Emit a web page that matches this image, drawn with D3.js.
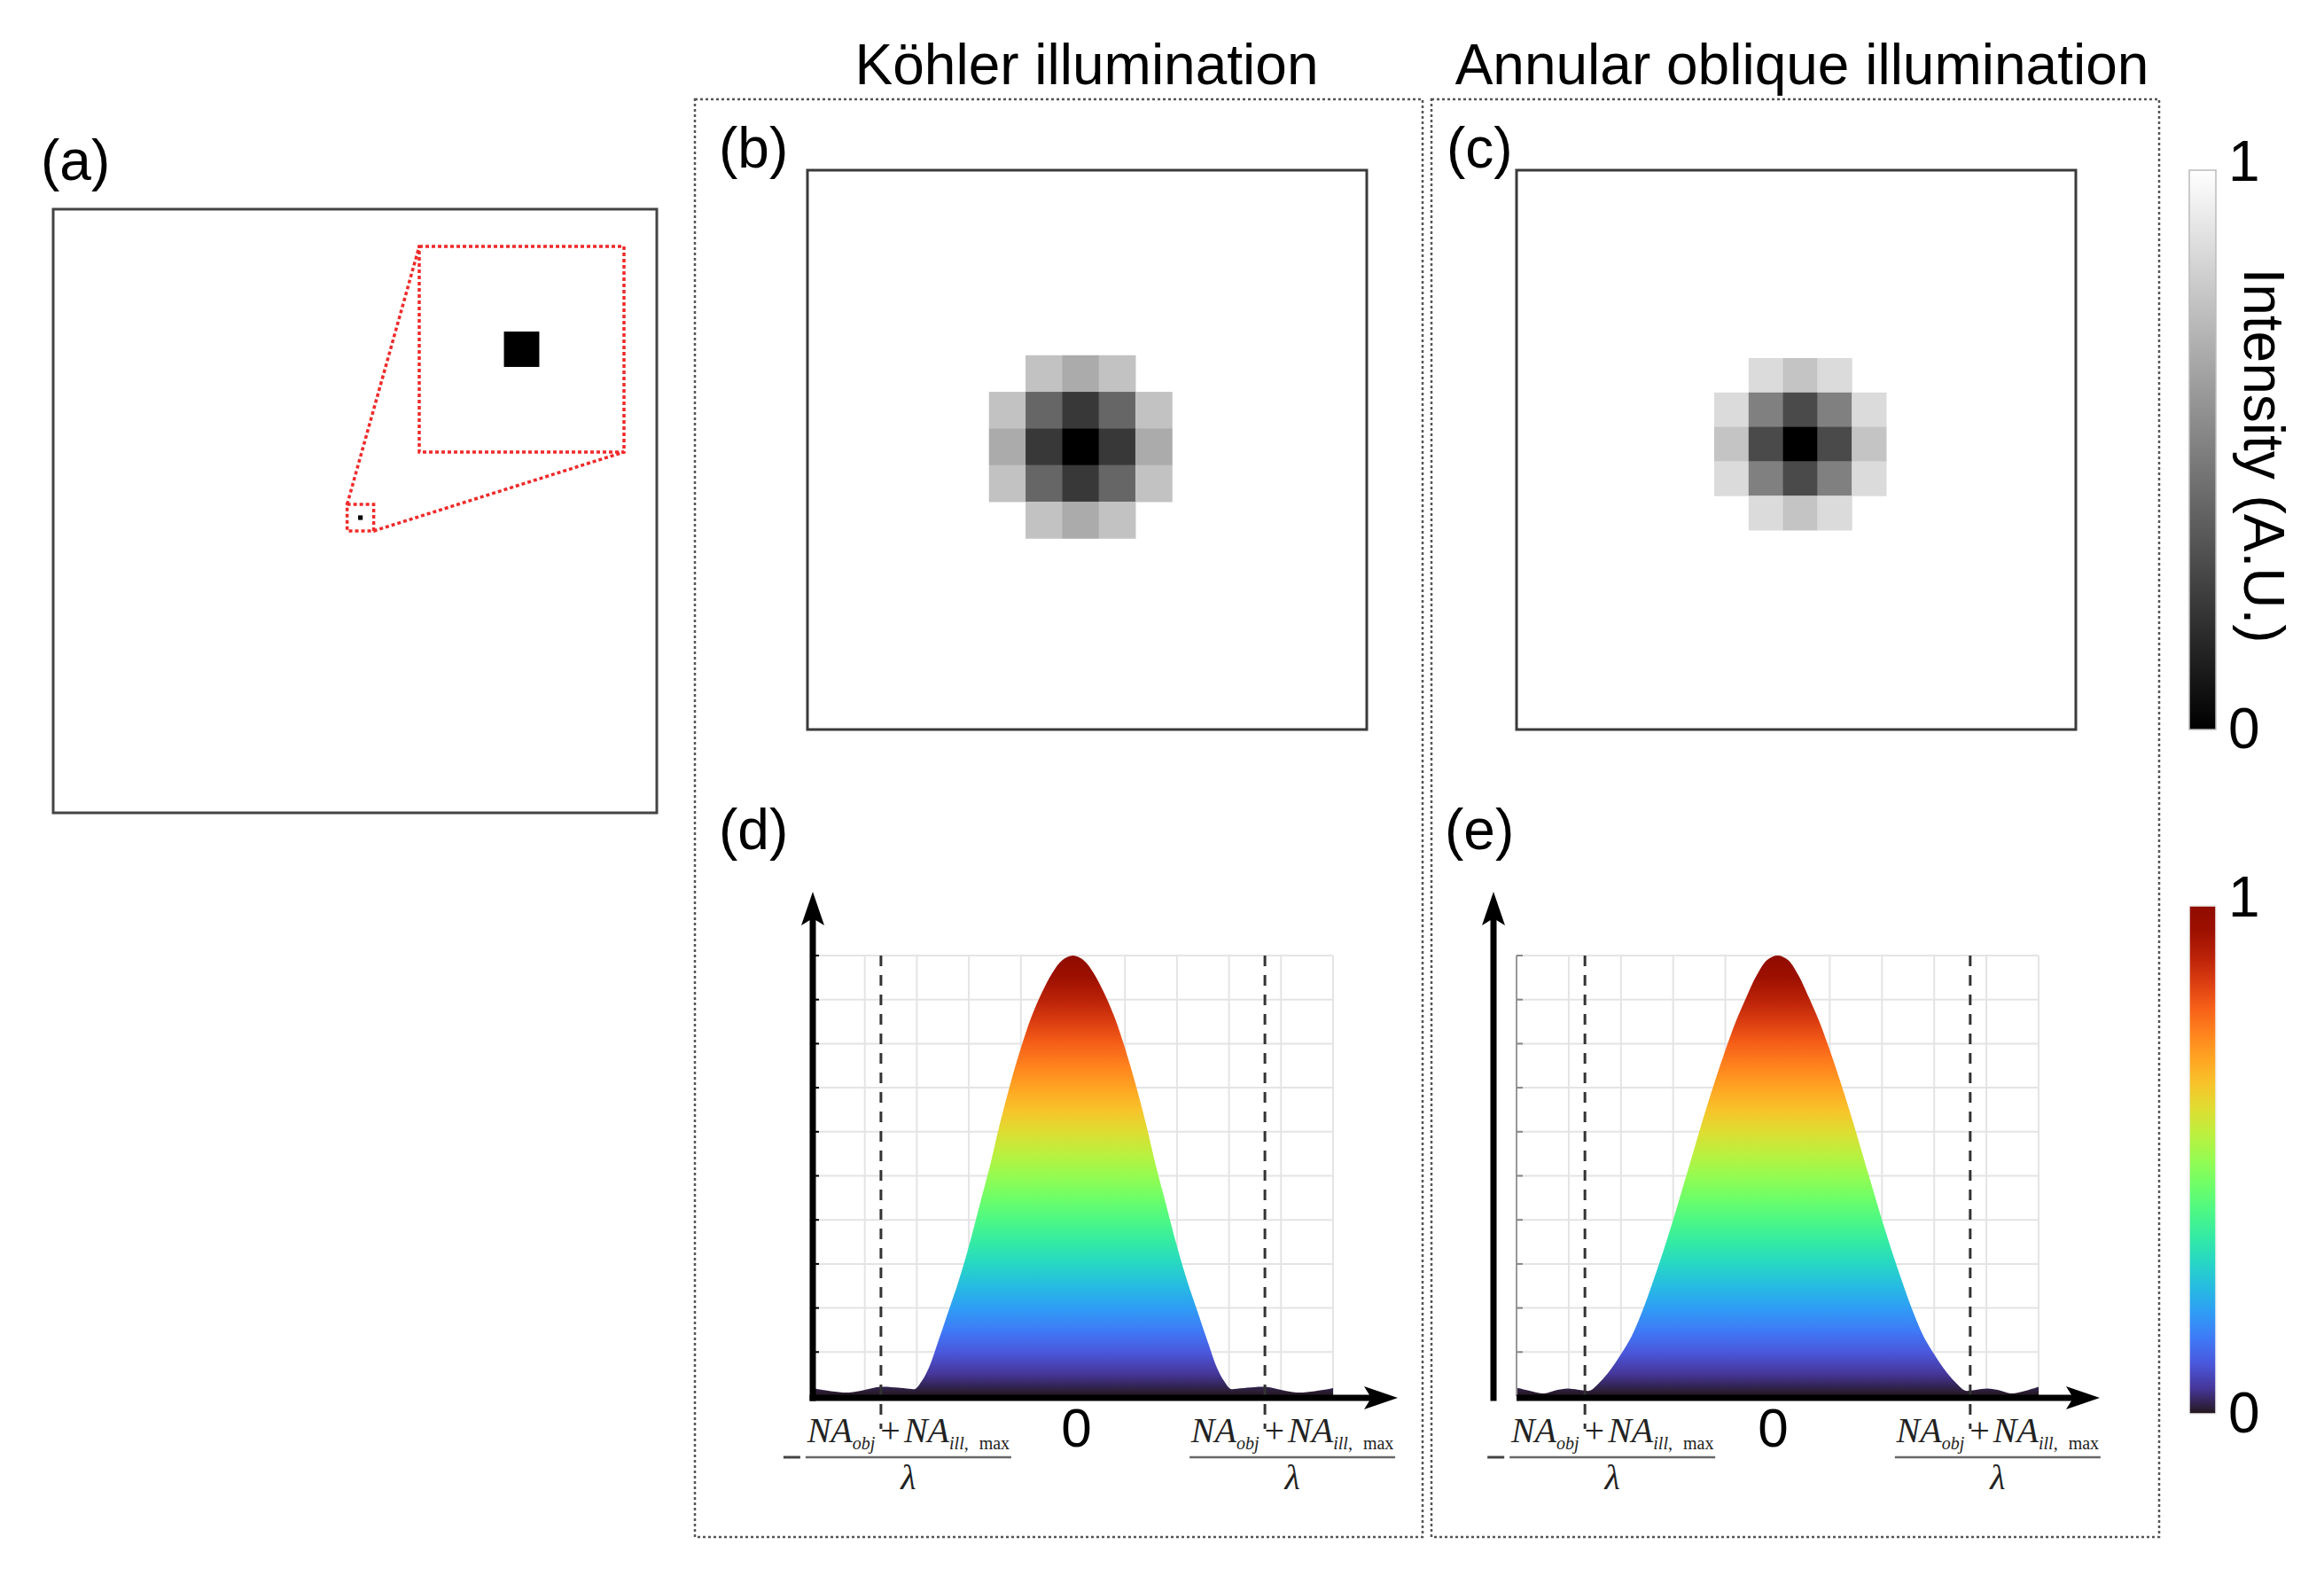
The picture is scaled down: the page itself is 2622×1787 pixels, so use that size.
<!DOCTYPE html>
<html>
<head>
<meta charset="utf-8">
<script src="https://cdn.jsdelivr.net/npm/d3@7"></script>
<style>
  body { margin: 0; background: #fff; }
  svg { display: block; }
</style>
</head>
<body>
<div id="fig"></div>
<script>
// ---- data ----
const panelLabels = ["(a)", "(b)", "(c)", "(d)", "(e)"];
const columnTitles = ["Köhler illumination", "Annular oblique illumination"];

// (a) the object: one point inside the field of view (normalised coords)
const objectPoint = [0.509, 0.511];
const objectSize = 0.0076;

// (b), (c) simulated images, 5x5 pixels round the centre (null = background)
const kohlerImage = [
  [null, 0.76, 0.67, 0.76, null],
  [0.76, 0.40, 0.22, 0.40, 0.76],
  [0.67, 0.22, 0.00, 0.22, 0.67],
  [0.76, 0.40, 0.22, 0.40, 0.76],
  [null, 0.76, 0.67, 0.76, null]
];
const annularImage = [
  [null, 0.86, 0.77, 0.86, null],
  [0.86, 0.50, 0.29, 0.50, 0.86],
  [0.77, 0.29, 0.00, 0.29, 0.77],
  [0.86, 0.50, 0.29, 0.50, 0.86],
  [null, 0.86, 0.77, 0.86, null]
];

// (d) Köhler transfer function (x in grid units, 0 = centre)
const kohlerFreq = [-5.0, -4.65, -4.3, -4.0, -3.7, -3.35, -3.1, -3.03, -2.9, -2.77, -2.6, -2.4, -2.2, -2.0, -1.8, -1.6, -1.4, -1.2, -1.0, -0.8, -0.6, -0.4, -0.2, 0,
  0.2, 0.4, 0.6, 0.8, 1.0, 1.2, 1.4, 1.6, 1.8, 2.0, 2.2, 2.4, 2.6, 2.77, 2.9, 3.03, 3.1, 3.35, 3.7, 4.0, 4.3, 4.65, 5.0];
const kohlerOtf = [0.018, 0.011, 0.008, 0.014, 0.021, 0.019, 0.016, 0.016, 0.035, 0.064, 0.12, 0.19, 0.26, 0.34, 0.43, 0.52, 0.62, 0.71, 0.79, 0.86, 0.915, 0.96, 0.99, 1.0,
  0.99, 0.96, 0.915, 0.86, 0.79, 0.71, 0.62, 0.52, 0.43, 0.34, 0.26, 0.19, 0.12, 0.064, 0.035, 0.016, 0.016, 0.019, 0.021, 0.014, 0.008, 0.011, 0.018];

// (e) annular oblique transfer function
const annularFreq = [-5.0, -4.75, -4.47, -4.25, -4.02, -3.8, -3.68, -3.58, -3.4, -3.2, -3.0, -2.8, -2.6, -2.4, -2.2, -2.0, -1.8, -1.6, -1.4, -1.2, -1.0, -0.8, -0.6, -0.4, -0.2, 0,
  0.2, 0.4, 0.6, 0.8, 1.0, 1.2, 1.4, 1.6, 1.8, 2.0, 2.2, 2.4, 2.6, 2.8, 3.0, 3.2, 3.4, 3.58, 3.68, 3.8, 4.02, 4.25, 4.47, 4.75, 5.0];
const annularOtf = [0.019, 0.012, 0.006, 0.013, 0.017, 0.014, 0.012, 0.013, 0.032, 0.06, 0.095, 0.135, 0.19, 0.255, 0.325, 0.40, 0.48, 0.56, 0.64, 0.715, 0.785, 0.85, 0.905, 0.955, 0.99, 1.0,
  0.99, 0.955, 0.905, 0.85, 0.785, 0.715, 0.64, 0.56, 0.48, 0.40, 0.325, 0.255, 0.19, 0.135, 0.095, 0.06, 0.032, 0.013, 0.012, 0.014, 0.017, 0.013, 0.006, 0.012, 0.021];

const freqDomain = [-5, 5];
const cutoffFreqs = [-3.69, 3.69];
const colorbarTicks = [0, 1];
const intensityLabel = "Intensity (A.U.)";

// ---- layout ----
const W = 2622, H = 1787;
const sans = "'Liberation Sans', Arial, Helvetica, sans-serif";
const serif = "'Liberation Serif', 'Times New Roman', serif";

const svg = d3.select("#fig").append("svg")
  .attr("width", W).attr("height", H)
  .attr("viewBox", [0, 0, W, H])
  .style("font-family", sans);
const defs = svg.append("defs");

const gray = d3.scaleLinear().domain([0, 1]).range(["#000", "#fff"]);

// turbo gradients
const turboStops = d3.range(0, 1.0001, 0.05);
const plotTop = 1078, plotBottom = 1575;
defs.append("linearGradient")
    .attr("id", "turboFill")
    .attr("gradientUnits", "userSpaceOnUse")
    .attr("x1", 0).attr("x2", 0).attr("y1", plotBottom).attr("y2", plotTop)
  .selectAll("stop").data(turboStops).join("stop")
    .attr("offset", d => d)
    .attr("stop-color", d => d3.interpolateTurbo(d));
defs.append("linearGradient")
    .attr("id", "turboBar")
    .attr("x1", 0).attr("x2", 0).attr("y1", 1).attr("y2", 0)
  .selectAll("stop").data(turboStops).join("stop")
    .attr("offset", d => d)
    .attr("stop-color", d => d3.interpolateTurbo(d));
defs.append("linearGradient")
    .attr("id", "grayBar")
    .attr("x1", 0).attr("x2", 0).attr("y1", 1).attr("y2", 0)
  .selectAll("stop").data([0, 1]).join("stop")
    .attr("offset", d => d)
    .attr("stop-color", d => gray(d));

// column titles
svg.selectAll("text.title")
  .data(columnTitles)
  .join("text")
    .attr("class", "title")
    .attr("x", (d, i) => [1226, 2033][i])
    .attr("y", 95)
    .attr("text-anchor", "middle")
    .style("font-size", "64px")
    .text(d => d);

// dotted frames round the two columns
svg.selectAll("rect.frame")
  .data([784, 1615])
  .join("rect")
    .attr("class", "frame")
    .attr("x", d => d).attr("y", 112)
    .attr("width", 821).attr("height", 1622)
    .attr("fill", "none")
    .attr("stroke", "#555")
    .attr("stroke-width", 2.5)
    .attr("stroke-dasharray", "3,3");

// panel letters
const labelPos = [[46, 203], [811, 189], [1632, 189], [811, 958], [1630, 958]];
svg.selectAll("text.plabel")
  .data(panelLabels)
  .join("text")
    .attr("class", "plabel")
    .attr("x", (d, i) => labelPos[i][0])
    .attr("y", (d, i) => labelPos[i][1])
    .style("font-size", "64px")
    .text(d => d);

// ---- (a) object ----
const aBox = { x: 60, y: 236, size: 681 };
const ax = d3.scaleLinear().domain([0, 1]).range([aBox.x, aBox.x + aBox.size]);
const ay = d3.scaleLinear().domain([0, 1]).range([aBox.y, aBox.y + aBox.size]);
svg.append("rect")
  .attr("x", ax(0)).attr("y", ay(0))
  .attr("width", ax(1) - ax(0)).attr("height", ay(1) - ay(0))
  .attr("fill", "none").attr("stroke", "#444").attr("stroke-width", 3);

const win = 0.022;
const ix = d3.scaleLinear().domain([objectPoint[0] - win, objectPoint[0] + win]).range([473, 704]);
const iy = d3.scaleLinear().domain([objectPoint[1] - win, objectPoint[1] + win]).range([278, 510]);
const red = { stroke: "#f02a2a", width: 3.5, dash: "4,3" };

// small window & inset
[[ax, ay], [ix, iy]].forEach(([sx, sy]) => {
  svg.append("rect")
    .attr("x", sx(objectPoint[0] - win)).attr("y", sy(objectPoint[1] - win))
    .attr("width", sx(objectPoint[0] + win) - sx(objectPoint[0] - win))
    .attr("height", sy(objectPoint[1] + win) - sy(objectPoint[1] - win))
    .attr("fill", "none").attr("stroke", red.stroke)
    .attr("stroke-width", red.width).attr("stroke-dasharray", red.dash);
  const s = Math.max(3, sx(objectPoint[0] + objectSize / 2) - sx(objectPoint[0] - objectSize / 2));
  svg.append("rect")
    .attr("x", sx(objectPoint[0]) - s / 2).attr("y", sy(objectPoint[1]) - s / 2)
    .attr("width", s).attr("height", s)
    .attr("fill", "#000");
});
// connectors
[[-1, -1], [1, 1]].forEach(([dx, dy]) => {
  svg.append("line")
    .attr("x1", ax(objectPoint[0] + dx * win)).attr("y1", ay(objectPoint[1] + dy * win))
    .attr("x2", ix(objectPoint[0] + dx * win)).attr("y2", iy(objectPoint[1] + dy * win))
    .attr("stroke", red.stroke).attr("stroke-width", red.width).attr("stroke-dasharray", red.dash);
});

// ---- (b), (c) images ----
function drawImage(img, box, pixel, centre) {
  svg.append("rect")
    .attr("x", box.x).attr("y", box.y).attr("width", box.size).attr("height", box.size)
    .attr("fill", "#fff").attr("stroke", "#3a3a3a").attr("stroke-width", 3);
  const px = d3.scaleLinear().domain([-2.5, 2.5]).range([centre[0] - 2.5 * pixel, centre[0] + 2.5 * pixel]);
  const py = d3.scaleLinear().domain([-2.5, 2.5]).range([centre[1] - 2.5 * pixel, centre[1] + 2.5 * pixel]);
  const cells = [];
  img.forEach((row, r) => row.forEach((v, c) => { if (v !== null) cells.push({ r: r - 2, c: c - 2, v }); }));
  svg.append("g").selectAll("rect")
    .data(cells)
    .join("rect")
      .attr("x", d => px(d.c - 0.5))
      .attr("y", d => py(d.r - 0.5))
      .attr("width", px(1) - px(0) + 0.5)
      .attr("height", py(1) - py(0) + 0.5)
      .attr("fill", d => gray(d.v));
}
drawImage(kohlerImage, { x: 911, y: 192, size: 631 }, 41.3, [1219, 504]);
drawImage(annularImage, { x: 1711, y: 192, size: 631 }, 38.8, [2031, 501]);

// ---- colour bars ----
function colorbar(top, bottom, fillId, border) {
  const cy = d3.scaleLinear().domain([0, 1]).range([bottom, top]);
  svg.append("rect")
    .attr("x", 2470).attr("y", cy(1))
    .attr("width", 30).attr("height", cy(0) - cy(1))
    .attr("fill", `url(#${fillId})`)
    .attr("stroke", border).attr("stroke-width", 1.5);
  svg.selectAll(null)
    .data(colorbarTicks)
    .join("text")
      .attr("x", 2514)
      .attr("y", d => cy(d) + (d === 1 ? 12 : 21))
      .style("font-size", "64px")
      .text(d => d);
}
colorbar(192, 823, "grayBar", "#bbb");
colorbar(1022, 1595, "turboBar", "#eee");
svg.append("text")
  .attr("transform", "translate(2532,514) rotate(90)")
  .attr("text-anchor", "middle")
  .style("font-size", "64px")
  .text(intensityLabel);

// ---- (d), (e) transfer functions ----
function arrowHead(g, tx, ty, dir) {
  // dir: "right" or "up"
  const L = 38, B = 30, Wd = 13;
  const pts = dir === "right"
    ? [[tx, ty], [tx - L, ty - Wd], [tx - B, ty], [tx - L, ty + Wd]]
    : [[tx, ty], [tx - Wd, ty + L], [tx, ty + B], [tx + Wd, ty + L]];
  g.append("path").attr("d", d3.line()(pts) + "Z").attr("fill", "#000");
}

function fraction(g, cx, negative) {
  const barY = 1644;
  const t = g.append("text")
    .attr("x", cx).attr("y", 1627)
    .attr("text-anchor", "middle")
    .style("font-family", serif)
    .style("font-size", "40px")
    .attr("fill", "#222");
  t.append("tspan").attr("font-style", "italic").text("NA");
  t.append("tspan").attr("font-style", "italic").attr("font-size", 20).attr("dy", 8).text("obj");
  t.append("tspan").attr("dy", -8).attr("dx", 6).text("+");
  t.append("tspan").attr("font-style", "italic").attr("dx", 4).text("NA");
  t.append("tspan").attr("font-style", "italic").attr("font-size", 20).attr("dy", 8).text("ill,");
  t.append("tspan").attr("font-size", 20).attr("dx", 12).text("max");
  g.append("line")
    .attr("x1", cx - 116).attr("x2", cx + 116).attr("y1", barY).attr("y2", barY)
    .attr("stroke", "#666").attr("stroke-width", 2.5);
  g.append("text")
    .attr("x", cx).attr("y", 1680)
    .attr("text-anchor", "middle")
    .style("font-family", serif).style("font-style", "italic").style("font-size", "40px")
    .attr("fill", "#222")
    .text("λ");
  if (negative) {
    g.append("line")
      .attr("x1", cx - 141).attr("x2", cx - 122).attr("y1", barY).attr("y2", barY)
      .attr("stroke", "#444").attr("stroke-width", 3);
  }
}

function drawOtf(cfg) {
  const x = d3.scaleLinear().domain(freqDomain).range([cfg.left, cfg.right]);
  const y = d3.scaleLinear().domain([0, 1]).range([plotBottom, plotTop]);
  const g = svg.append("g");

  g.append("g").selectAll("line")
    .data(x.ticks(10).filter(d => d > freqDomain[0]))
    .join("line")
      .attr("x1", d => x(d)).attr("x2", d => x(d))
      .attr("y1", y(0)).attr("y2", y(1))
      .attr("stroke", "#e4e4e4").attr("stroke-width", 2);
  g.append("g").selectAll("line")
    .data(y.ticks(10).filter(d => d > 0))
    .join("line")
      .attr("x1", x(freqDomain[0])).attr("x2", x(freqDomain[1]))
      .attr("y1", d => y(d)).attr("y2", d => y(d))
      .attr("stroke", "#e4e4e4").attr("stroke-width", 2);

  const area = d3.area()
    .x(d => x(d[0]))
    .y0(y(0))
    .y1(d => y(d[1]))
    .curve(d3.curveCatmullRom.alpha(0.5));
  g.append("path")
    .datum(d3.zip(cfg.freq, cfg.otf))
    .attr("d", area)
    .attr("fill", "url(#turboFill)");

  // grid left edge and small ticks
  if (!cfg.axisOnGrid) {
    g.append("line")
      .attr("x1", x(freqDomain[0])).attr("x2", x(freqDomain[0]))
      .attr("y1", y(0)).attr("y2", y(1))
      .attr("stroke", "#999").attr("stroke-width", 2);
  }
  g.append("g").selectAll("line")
    .data(y.ticks(10).filter(d => d > 0))
    .join("line")
      .attr("x1", x(freqDomain[0])).attr("x2", x(freqDomain[0]) + 7)
      .attr("y1", d => y(d)).attr("y2", d => y(d))
      .attr("stroke", cfg.axisOnGrid ? "#000" : "#888").attr("stroke-width", 2);

  // cutoff lines
  g.append("g").selectAll("line")
    .data(cutoffFreqs)
    .join("line")
      .attr("x1", d => x(d)).attr("x2", d => x(d))
      .attr("y1", y(1)).attr("y2", 1612)
      .attr("stroke", "#333").attr("stroke-width", 3)
      .attr("stroke-dasharray", "12,10");

  // axes
  const axisY = 1577, tipX = cfg.tipX, yAxisX = cfg.yAxisX, tipY = 1006;
  g.append("line")
    .attr("x1", cfg.xAxisStart).attr("x2", tipX - 30)
    .attr("y1", axisY).attr("y2", axisY)
    .attr("stroke", "#000").attr("stroke-width", 7);
  arrowHead(g, tipX, axisY, "right");
  g.append("line")
    .attr("x1", yAxisX).attr("x2", yAxisX)
    .attr("y1", 1580.5).attr("y2", tipY + 30)
    .attr("stroke", "#000").attr("stroke-width", 7);
  arrowHead(g, yAxisX, tipY, "up");

  g.append("text")
    .attr("x", x(0) + cfg.zeroShift).attr("y", 1632)
    .attr("text-anchor", "middle")
    .style("font-size", "62px")
    .text("0");

  cutoffFreqs.forEach(f => fraction(g, x(f) + 31, f < 0));
}

drawOtf({ left: 917, right: 1504, freq: kohlerFreq, otf: kohlerOtf,
  axisOnGrid: true, yAxisX: 917, xAxisStart: 913.5, tipX: 1577, zeroShift: 4 });
drawOtf({ left: 1711, right: 2300, freq: annularFreq, otf: annularOtf,
  axisOnGrid: false, yAxisX: 1685, xAxisStart: 1711, tipX: 2369, zeroShift: -5 });
</script>
</body>
</html>
